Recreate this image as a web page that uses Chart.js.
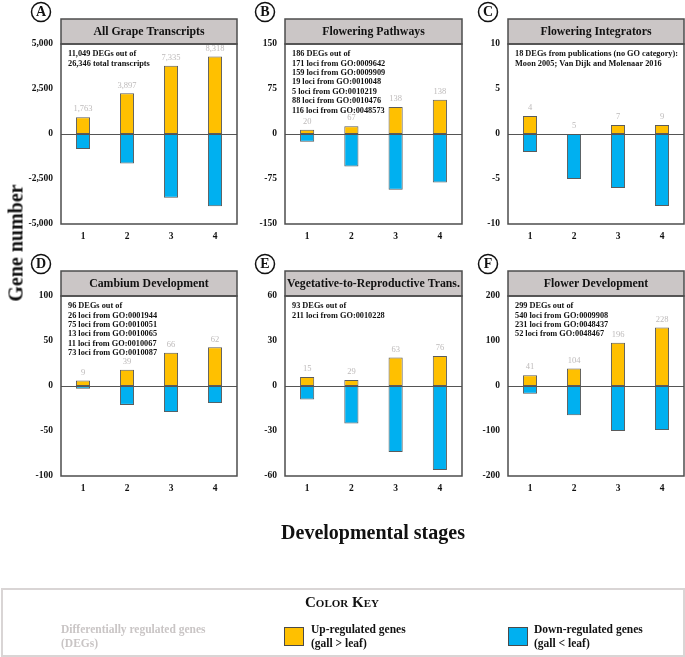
<!DOCTYPE html>
<html>
<head>
<meta charset="utf-8">
<script src="https://cdn.jsdelivr.net/npm/chart.js@4.4.0/dist/chart.umd.min.js"></script>
<style>
  html, body { margin:0; padding:0; background:#fff; }
  #wrap { position:relative; width:685px; height:657px; overflow:hidden; font-family:"Liberation Serif","Times New Roman",serif; }
  canvas.panel { position:absolute; left:0; top:0; }
  .abs { position:absolute; white-space:nowrap; }
  #ylab { left:16px; top:243px; transform:translate(-50%,-50%) rotate(-90deg); font-weight:bold; font-size:20px; color:#111; }
  #xlab { left:373px; top:532px; transform:translate(-50%,-50%); font-weight:bold; font-size:20px; color:#111; }
  #key { position:absolute; left:1px; top:588px; width:680px; height:65px; border:2px solid #d9d5d5; }
  #keytitle { left:342px; top:602px; transform:translate(-50%,-50%); font-weight:bold; font-size:15px; font-variant:small-caps; color:#111; }
  .kt { font-weight:bold; font-size:11.5px; line-height:14px; color:#111; }
  .sw { position:absolute; width:18px; height:17px; border:1px solid #4a4a4a; }
</style>
</head>
<body>
<div id="wrap">
  <canvas class="panel" id="cA" width="685" height="657"></canvas>
  <canvas class="panel" id="cB" width="685" height="657"></canvas>
  <canvas class="panel" id="cC" width="685" height="657"></canvas>
  <canvas class="panel" id="cD" width="685" height="657"></canvas>
  <canvas class="panel" id="cE" width="685" height="657"></canvas>
  <canvas class="panel" id="cF" width="685" height="657"></canvas>
  <div class="abs" id="ylab">Gene number</div>
  <div class="abs" id="xlab">Developmental stages</div>
  <div id="key"></div>
  <div class="abs" id="keytitle">Color Key</div>
  <div class="abs kt" style="left:61px;top:622px;color:#c9c5c5;">Differentially regulated genes<br>(DEGs)</div>
  <div class="sw" style="left:284px;top:627px;background:#FFC000;"></div>
  <div class="abs kt" style="left:311px;top:622px;">Up-regulated genes<br>(gall &gt; leaf)</div>
  <div class="sw" style="left:508px;top:627px;background:#00B0F0;"></div>
  <div class="abs kt" style="left:534px;top:622px;">Down-regulated genes<br>(gall &lt; leaf)</div>
</div>
<script>
// ---------- data ----------
const stages = ['1', '2', '3', '4'];

const upA = [930, 2262, 3797, 4310];
const downA = [-833, -1635, -3538, -4008];
const totalA = ['1,763', '3,897', '7,335', '8,318'];
const ticksA = [-5000, -2500, 0, 2500, 5000];

const upB = [7, 13, 45, 57];
const downB = [-13, -54, -93, -81];
const totalB = ['20', '67', '138', '138'];
const ticksB = [-150, -75, 0, 75, 150];

const upC = [2, 0, 1, 1];
const downC = [-2, -5, -6, -8];
const totalC = ['4', '5', '7', '9'];
const ticksC = [-10, -5, 0, 5, 10];

const upD = [6, 18, 37, 43];
const downD = [-3, -21, -29, -19];
const totalD = ['9', '39', '66', '62'];
const ticksD = [-100, -50, 0, 50, 100];

const upE = [6, 4, 19, 20];
const downE = [-9, -25, -44, -56];
const totalE = ['15', '29', '63', '76'];
const ticksE = [-60, -30, 0, 30, 60];

const upF = [24, 39, 96, 130];
const downF = [-17, -65, -100, -98];
const totalF = ['41', '104', '196', '228'];
const ticksF = [-200, -100, 0, 100, 200];

const panelLetters = ['A', 'B', 'C', 'D', 'E', 'F'];
const panelTitles = ['All Grape Transcripts', 'Flowering Pathways', 'Flowering Integrators',
                     'Cambium Development', 'Vegetative-to-Reproductive Trans.', 'Flower Development'];
const notesA = ['11,049 DEGs out of', '26,346 total transcripts'];
const notesB = ['186 DEGs out of', '171 loci from GO:0009642', '159 loci from GO:0009909',
                '19 loci from GO:0010048', '5 loci from GO:0010219', '88 loci from GO:0010476',
                '116 loci from GO:0048573'];
const notesC = ['18 DEGs from publications (no GO category):', 'Moon 2005; Van Dijk and Molenaar 2016'];
const notesD = ['96 DEGs out of', '26 loci from GO:0001944', '75 loci from GO:0010051',
                '13 loci from GO:0010065', '11 loci from GO:0010067', '73 loci from GO:0010087'];
const notesE = ['93 DEGs out of', '211 loci from GO:0010228'];
const notesF = ['299 DEGs out of', '540 loci from GO:0009908', '231 loci from GO:0048437',
                '52 loci from GO:0048467'];

// ---------- layout (plot boxes, page pixels) ----------
const colX = [[61, 237], [285, 462], [508, 684]];
const rowY = [[44, 224], [296, 476]];
const W = 685, H = 657, YAXW = 40, XAXH = 20;

const SERIF = '"Liberation Serif","Times New Roman",serif';

const panelPlugin = {
  id: 'panelDeco',
  beforeDatasetsDraw(chart) {
    const o = chart.options.plugins.panelDeco;
    const { left, right, top } = chart.chartArea;
    const ctx = chart.ctx;
    ctx.save();
    // header box
    ctx.fillStyle = '#cbc6c6';
    ctx.fillRect(left, top - 25, right - left, 25);
    ctx.strokeStyle = '#4d4d4d';
    ctx.lineWidth = 1.5;
    ctx.strokeRect(left, top - 25, right - left, 25);
    ctx.fillStyle = '#111';
    ctx.font = 'bold 11.8px ' + SERIF;
    ctx.textAlign = 'center';
    ctx.textBaseline = 'middle';
    ctx.fillText(o.title, (left + right) / 2, top - 12);
    // panel letter
    ctx.beginPath();
    ctx.arc(left - 20, top - 32, 9.5, 0, Math.PI * 2);
    ctx.lineWidth = 1.5;
    ctx.strokeStyle = '#111';
    ctx.stroke();
    ctx.font = 'bold 14px ' + SERIF;
    ctx.fillText(o.letter, left - 20, top - 31.5);
    // notes
    ctx.textAlign = 'left';
    ctx.font = 'bold 8.3px ' + SERIF;
    o.notes.forEach((t, i) => ctx.fillText(t, left + 7, top + 10 + i * 9.45));
    ctx.restore();
  },
  afterDatasetsDraw(chart) {
    const o = chart.options.plugins.panelDeco;
    const { left, right, top, bottom } = chart.chartArea;
    const ctx = chart.ctx;
    const xs = chart.scales.x, ys = chart.scales.y;
    ctx.save();
    // zero line
    const y0 = Math.round(ys.getPixelForValue(0)) + 0.5;
    ctx.strokeStyle = '#555';
    ctx.lineWidth = 1;
    ctx.beginPath(); ctx.moveTo(left, y0); ctx.lineTo(right, y0); ctx.stroke();
    // frame
    ctx.strokeStyle = '#4d4d4d';
    ctx.lineWidth = 1.5;
    ctx.strokeRect(left, top, right - left, bottom - top);
    // totals above bars
    ctx.fillStyle = '#bdbaba';
    ctx.font = '8.5px ' + SERIF;
    ctx.textAlign = 'center';
    ctx.textBaseline = 'middle';
    const up = chart.data.datasets[0].data;
    o.totals.forEach((t, i) => {
      const x = xs.getPixelForValue(i);
      const y = ys.getPixelForValue(Math.max(up[i], 0)) - 8;
      ctx.fillText(t, x, y);
    });
    ctx.restore();
  }
};

function makePanel(id, idx, up, down, totals, ticks, notes) {
  const [L, R] = colX[idx % 3];
  const [T, B] = rowY[Math.floor(idx / 3)];
  const tickFont = { family: SERIF, size: 9.5, weight: 'bold' };
  new Chart(document.getElementById(id), {
    type: 'bar',
    data: {
      labels: stages,
      datasets: [
        { label: 'Up-regulated genes', data: up, backgroundColor: '#FFC000', borderColor: '#5b5b5b', borderWidth: 1, borderSkipped: false },
        { label: 'Down-regulated genes', data: down, backgroundColor: '#00B0F0', borderColor: '#5b5b5b', borderWidth: 1, borderSkipped: false }
      ]
    },
    options: {
      responsive: false,
      animation: false,
      devicePixelRatio: 1,
      layout: { padding: { left: L - YAXW, right: W - R, top: T, bottom: H - B - XAXH } },
      datasets: { bar: { categoryPercentage: 1, barPercentage: 0.32 } },
      plugins: {
        legend: { display: false },
        tooltip: { enabled: false },
        title: { display: false },
        panelDeco: { title: panelTitles[idx], letter: panelLetters[idx], notes: notes, totals: totals }
      },
      scales: {
        x: {
          stacked: true,
          grid: { display: false, drawTicks: false },
          border: { display: false },
          ticks: { font: tickFont, color: '#111', padding: 7 },
          afterFit(s) { s.height = XAXH; }
        },
        y: {
          stacked: true,
          min: ticks[0],
          max: ticks[ticks.length - 1],
          grid: { display: false, drawTicks: false },
          border: { display: false },
          afterBuildTicks(s) { s.ticks = ticks.map(v => ({ value: v })); },
          ticks: {
            font: tickFont, color: '#111', padding: 8,
            callback: v => Number(v).toLocaleString('en-US')
          },
          afterFit(s) { s.width = YAXW; }
        }
      }
    },
    plugins: [panelPlugin]
  });
}

makePanel('cA', 0, upA, downA, totalA, ticksA, notesA);
makePanel('cB', 1, upB, downB, totalB, ticksB, notesB);
makePanel('cC', 2, upC, downC, totalC, ticksC, notesC);
makePanel('cD', 3, upD, downD, totalD, ticksD, notesD);
makePanel('cE', 4, upE, downE, totalE, ticksE, notesE);
makePanel('cF', 5, upF, downF, totalF, ticksF, notesF);
</script>
</body>
</html>
